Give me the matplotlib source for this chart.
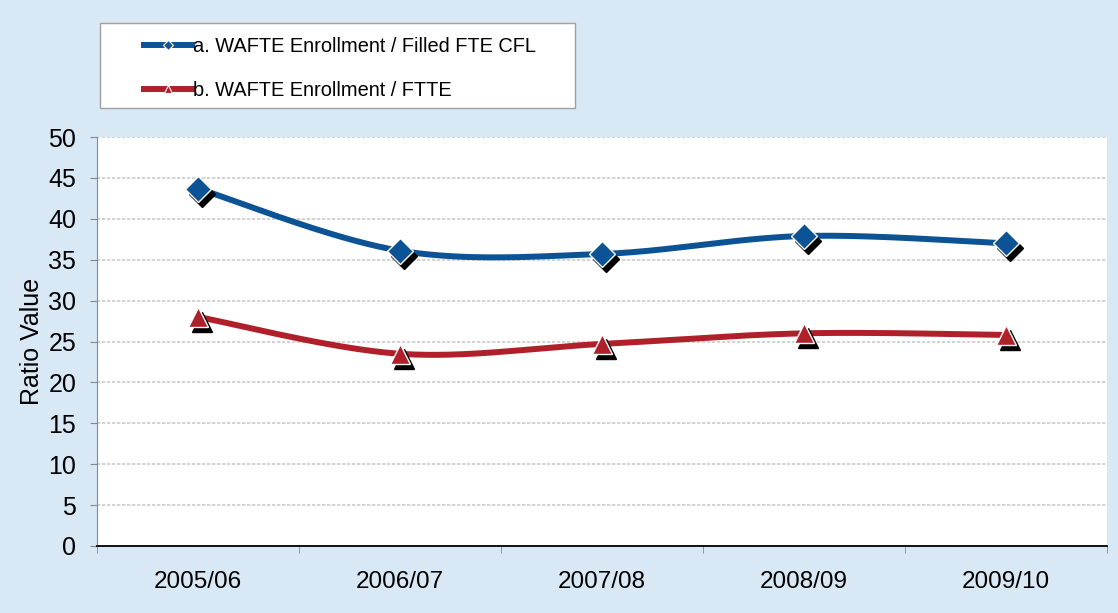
import numpy as np
import matplotlib.pyplot as plt
from matplotlib import transforms
from matplotlib.lines import Line2D
from matplotlib.patches import Rectangle

# data
years = ["2005/06", "2006/07", "2007/08", "2008/09", "2009/10"]
ratio_cfl = [43.7, 36.1, 35.7, 37.9, 37.0]
ratio_ftte = [28.0, 23.5, 24.7, 26.0, 25.8]
label_cfl = "a. WAFTE Enrollment / Filled FTE CFL"
label_ftte = "b. WAFTE Enrollment / FTTE"

BLUE = "#0b5394"
RED = "#b0202a"
BG = "#d8e8f5"

plt.rcParams['font.family'] = ['Liberation Sans', 'DejaVu Sans']


def smooth(xs, ys, n=40):
    # Excel-like smoothed line: cubic bezier through points, catmull-rom tangents
    xs = np.asarray(xs, float)
    ys = np.asarray(ys, float)
    px = np.concatenate([[xs[0]], xs, [xs[-1]]])
    py = np.concatenate([[ys[0]], ys, [ys[-1]]])
    outx, outy = [], []
    t = np.linspace(0, 1, n)
    for i in range(1, len(px) - 2):
        p0 = np.array([px[i], py[i]])
        p3 = np.array([px[i + 1], py[i + 1]])
        p1 = p0 + (np.array([px[i + 1], py[i + 1]]) - np.array([px[i - 1], py[i - 1]])) / 6
        p2 = p3 - (np.array([px[i + 2], py[i + 2]]) - np.array([px[i], py[i]])) / 6
        b = ((1 - t) ** 3)[:, None] * p0 + (3 * (1 - t) ** 2 * t)[:, None] * p1 \
            + (3 * (1 - t) * t ** 2)[:, None] * p2 + (t ** 3)[:, None] * p3
        outx.extend(b[:, 0])
        outy.extend(b[:, 1])
    return np.array(outx), np.array(outy)


fig = plt.figure(figsize=(11.18, 6.13), dpi=100)
fig.patch.set_facecolor(BG)
ax = fig.add_axes([0.0868, 0.1093, 0.9032, 0.6672])
ax.set_facecolor("white")

x = np.arange(len(years)) + 0.5
shadow = transforms.offset_copy(ax.transData, fig=fig, x=4, y=-5, units='dots')

for vals, col, mk, ms in [(ratio_cfl, BLUE, 'D', 13), (ratio_ftte, RED, '^', 14)]:
    sx, sy = smooth(x, vals)
    ax.plot(sx, sy, color=col, lw=4.3, solid_capstyle='round', zorder=3)
    ax.plot(x, vals, ls='none', marker=mk, ms=ms, color='black',
            mec='black', transform=shadow, zorder=4)
    ax.plot(x, vals, ls='none', marker=mk, ms=ms, color=col,
            mec='white', mew=1.0, zorder=5)

ax.set_xlim(0, len(years))
ax.set_ylim(0, 50)
ax.set_yticks(np.arange(0, 51, 5))
ax.set_xticks(x)
ax.set_xticklabels(years)
ax.set_xticks(np.arange(0, len(years) + 1), minor=True)
ax.tick_params(axis='x', which='major', length=0, pad=18, labelsize=17.5)
ax.tick_params(axis='x', which='minor', length=5, color='#888888')
ax.tick_params(axis='y', length=5, color='#888888', labelsize=18, pad=10)

ax.grid(axis='y', color='#cccccc', lw=1.2, ls=(0, (2, 1)))
ax.set_axisbelow(True)
for s in ['top', 'right']:
    ax.spines[s].set_visible(False)
ax.spines['left'].set_color('#888888')
ax.spines['bottom'].set_color('black')
ax.spines['bottom'].set_linewidth(1.3)

ax.set_ylabel("Ratio Value", fontsize=18, labelpad=3)

# legend box
fig.patches.append(Rectangle((0.0894, 0.8238), 0.4250, 0.1387, transform=fig.transFigure,
                             facecolor='white', edgecolor='#a0a0a0', lw=1.0))
handles = [Line2D([], [], color=BLUE, lw=4.3, marker='D', ms=5, mfc=BLUE, mec='white', mew=0.8),
           Line2D([], [], color=RED, lw=4.3, marker='^', ms=6, mfc=RED, mec='white', mew=0.8)]
fig.legend(handles, [label_cfl, label_ftte], loc='upper left',
           bbox_to_anchor=(0.1125, 0.969), frameon=False, fontsize=14.4,
           handlelength=2.4, handletextpad=0.05, labelspacing=1.25)

fig.savefig("out.png", dpi=100, facecolor=BG)
